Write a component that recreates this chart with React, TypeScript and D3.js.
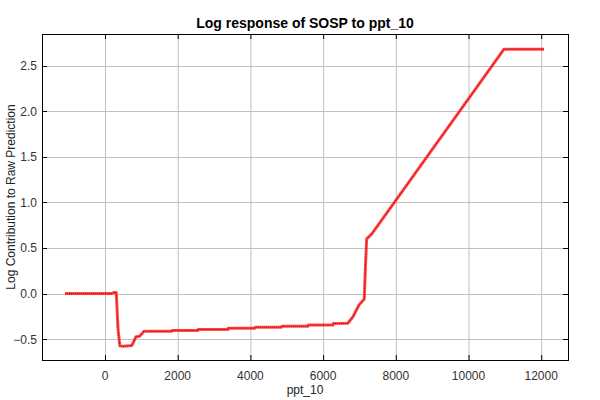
import React from "react";
import * as d3 from "d3";

const title = "Log response of SOSP to ppt_10";
const xLabel = "ppt_10";
const yLabel = "Log Contribution to Raw Prediction";

const xTicks = [0, 2000, 4000, 6000, 8000, 10000, 12000];
const yTicks = [-0.5, 0.0, 0.5, 1.0, 1.5, 2.0, 2.5];

const ppt = [
  -1100, 180, 250, 310, 360, 410, 500, 740, 800, 850, 950, 1050, 1073, 1835, 1840,
  2558, 2565, 3384, 3390, 4127, 4135, 4861, 4870, 5585, 5595, 6272, 6280, 6677,
  6822, 6987, 7133, 7165, 7199, 7340, 10977, 12077,
];
const response = [
  0.0, 0.0, 0.012, 0.01, -0.4, -0.575, -0.58, -0.57, -0.52, -0.475, -0.47, -0.425,
  -0.415, -0.415, -0.405, -0.405, -0.394, -0.394, -0.38, -0.38, -0.369, -0.369,
  -0.358, -0.358, -0.347, -0.347, -0.33, -0.327, -0.255, -0.126, -0.06, 0.3, 0.6,
  0.655, 2.683, 2.683,
];

const W = 600;
const H = 400;
const L = 42;
const R = 568;
const T = 34;
const B = 360;

export default function App() {
  const x = d3.scaleLinear().domain([-1733, 12737]).range([L, R]);
  const y = d3.scaleLinear().domain([-0.73, 2.85]).range([B, T]);
  const pts: [number, number][] = ppt.map((v, i) => [v, response[i]]);
  const line = d3
    .line<[number, number]>()
    .x((d) => x(d[0]))
    .y((d) => y(d[1]));
  const path = line(pts) || "";
  const font = "'Liberation Sans', Arial, Helvetica, sans-serif";
  const tickLen = 5;
  return (
    <svg
      width={W}
      height={H}
      style={{ position: "absolute", left: 0, top: 0, background: "#fff" }}
      fontFamily={font}
    >
      <rect x={0} y={0} width={W} height={H} fill="#fff" />
      {xTicks.map((t) => (
        <line key={"gx" + t} x1={x(t) + 0.5} x2={x(t) + 0.5} y1={T} y2={B} stroke="#c0c0c0" strokeWidth={1} />
      ))}
      {yTicks.map((t) => (
        <line key={"gy" + t} x1={L} x2={R} y1={Math.round(y(t)) + 0.5} y2={Math.round(y(t)) + 0.5} stroke="#c0c0c0" strokeWidth={1} />
      ))}
      <path d={path} fill="none" stroke="#ff3030" strokeOpacity={0.85} strokeWidth={3} strokeLinejoin="round" />
      <path d={path} fill="none" stroke="#e00000" strokeWidth={1.2} strokeDasharray="1.2,0.8" />
      <rect x={L + 0.5} y={T + 0.5} width={R - L} height={B - T} fill="none" stroke="#000" strokeWidth={1} />
      {xTicks.map((t) => (
        <g key={"tx" + t}>
          <line x1={x(t) + 0.5} x2={x(t) + 0.5} y1={B} y2={B - tickLen} stroke="#000" />
          <line x1={x(t) + 0.5} x2={x(t) + 0.5} y1={T} y2={T + tickLen} stroke="#000" />
          <text x={x(t)} y={B + 20} textAnchor="middle" fontSize={12} fill="#333">
            {t}
          </text>
        </g>
      ))}
      {yTicks.map((t) => (
        <g key={"ty" + t}>
          <line x1={L} x2={L + tickLen} y1={Math.round(y(t)) + 0.5} y2={Math.round(y(t)) + 0.5} stroke="#000" />
          <line x1={R - tickLen} x2={R} y1={Math.round(y(t)) + 0.5} y2={Math.round(y(t)) + 0.5} stroke="#000" />
          <text x={L - 5} y={y(t) + 4.5} textAnchor="end" fontSize={12} fill="#333">
            {d3.format(".1f")(t)}
          </text>
        </g>
      ))}
      <text x={(L + R) / 2} y={28} textAnchor="middle" fontSize={14} fontWeight="bold" fill="#000">
        {title}
      </text>
      <text x={(L + R) / 2} y={394} textAnchor="middle" fontSize={12} fill="#222">
        {xLabel}
      </text>
      <text
        transform={`translate(15,${(T + B) / 2}) rotate(-90)`}
        textAnchor="middle"
        fontSize={12}
        fill="#222"
      >
        {yLabel}
      </text>
    </svg>
  );
}
